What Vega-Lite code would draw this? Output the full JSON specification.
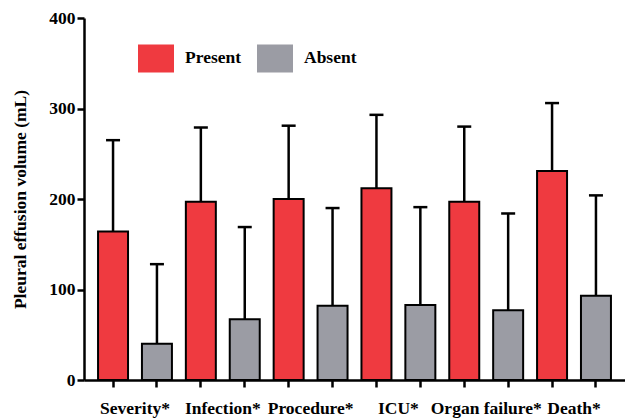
{
  "$schema": "https://vega.github.io/schema/vega-lite/v6.json",
  "autosize": {"type": "none"},
  "padding": {"left": 84, "top": 18, "right": 0, "bottom": 39},
  "width": 541,
  "height": 362,
  "config": {
    "view": {"stroke": null},
    "font": "Liberation Serif",
    "axis": {
      "domainColor": "black",
      "domainWidth": 2.5,
      "tickColor": "black",
      "tickWidth": 2.5,
      "tickSize": 7,
      "labelColor": "black",
      "labelFont": "Liberation Serif",
      "labelFontWeight": "bold",
      "labelFontSize": 17.5,
      "titleFont": "Liberation Serif",
      "titleFontWeight": "bold",
      "titleFontSize": 17.5,
      "titleColor": "black",
      "grid": false
    }
  },
  "data": {
    "values": [
      {"bar": "Severity*|Present", "category": "Severity*", "group": "Present", "mean": 164, "upper": 265},
      {"bar": "Severity*|Absent", "category": "Severity*", "group": "Absent", "mean": 40, "upper": 128},
      {"bar": "Infection*|Present", "category": "Infection*", "group": "Present", "mean": 197, "upper": 279},
      {"bar": "Infection*|Absent", "category": "Infection*", "group": "Absent", "mean": 67, "upper": 169},
      {"bar": "Procedure*|Present", "category": "Procedure*", "group": "Present", "mean": 200, "upper": 281},
      {"bar": "Procedure*|Absent", "category": "Procedure*", "group": "Absent", "mean": 82, "upper": 190},
      {"bar": "ICU*|Present", "category": "ICU*", "group": "Present", "mean": 212, "upper": 293},
      {"bar": "ICU*|Absent", "category": "ICU*", "group": "Absent", "mean": 83, "upper": 191},
      {"bar": "Organ failure*|Present", "category": "Organ failure*", "group": "Present", "mean": 197, "upper": 280},
      {"bar": "Organ failure*|Absent", "category": "Organ failure*", "group": "Absent", "mean": 77, "upper": 184},
      {"bar": "Death*|Present", "category": "Death*", "group": "Present", "mean": 231, "upper": 306},
      {"bar": "Death*|Absent", "category": "Death*", "group": "Absent", "mean": 93, "upper": 204}
    ]
  },
  "encoding": {
    "x": {
      "field": "bar",
      "type": "nominal",
      "sort": null,
      "scale": {"paddingInner": 0.317, "paddingOuter": 0.32},
      "axis": {
        "title": null,
        "labelAngle": 0,
        "labelExpr": "indexof(datum.value, '|Present') >= 0 ? split(datum.value, '|')[0] : ''",
        "labelOffset": 22,
        "labelPadding": 12
      }
    }
  },
  "layer": [
    {
      "mark": {"type": "rule", "strokeWidth": 2.5, "color": "black"},
      "encoding": {
        "y": {
          "field": "mean",
          "type": "quantitative",
          "scale": {"domain": [0, 400]},
          "axis": {"values": [0, 100, 200, 300, 400], "title": "Pleural effusion volume (mL)", "labelPadding": 2, "titlePadding": 19}
        },
        "y2": {"field": "upper"}
      }
    },
    {
      "mark": {"type": "tick", "orient": "horizontal", "size": 14, "thickness": 2.5, "color": "black", "opacity": 1},
      "encoding": {
        "y": {"field": "upper", "type": "quantitative"}
      }
    },
    {
      "mark": {"type": "bar", "stroke": "black", "strokeWidth": 2, "opacity": 1},
      "encoding": {
        "y": {"field": "mean", "type": "quantitative"},
        "color": {
          "field": "group",
          "type": "nominal",
          "scale": {"domain": ["Present", "Absent"], "range": ["#EF3A40", "#9B9CA4"]},
          "legend": {
            "title": null,
            "orient": "none",
            "legendX": 54,
            "legendY": 22,
            "direction": "horizontal",
            "symbolType": "M-1,-0.778H1V0.778H-1Z",
            "symbolSize": 1296,
            "symbolStrokeWidth": 0,
            "symbolOpacity": 1,
            "labelFont": "Liberation Serif",
            "labelFontSize": 17.5,
            "labelFontWeight": "bold",
            "labelColor": "black",
            "labelOffset": 11,
            "columnPadding": 15
          }
        }
      }
    }
  ]
}
